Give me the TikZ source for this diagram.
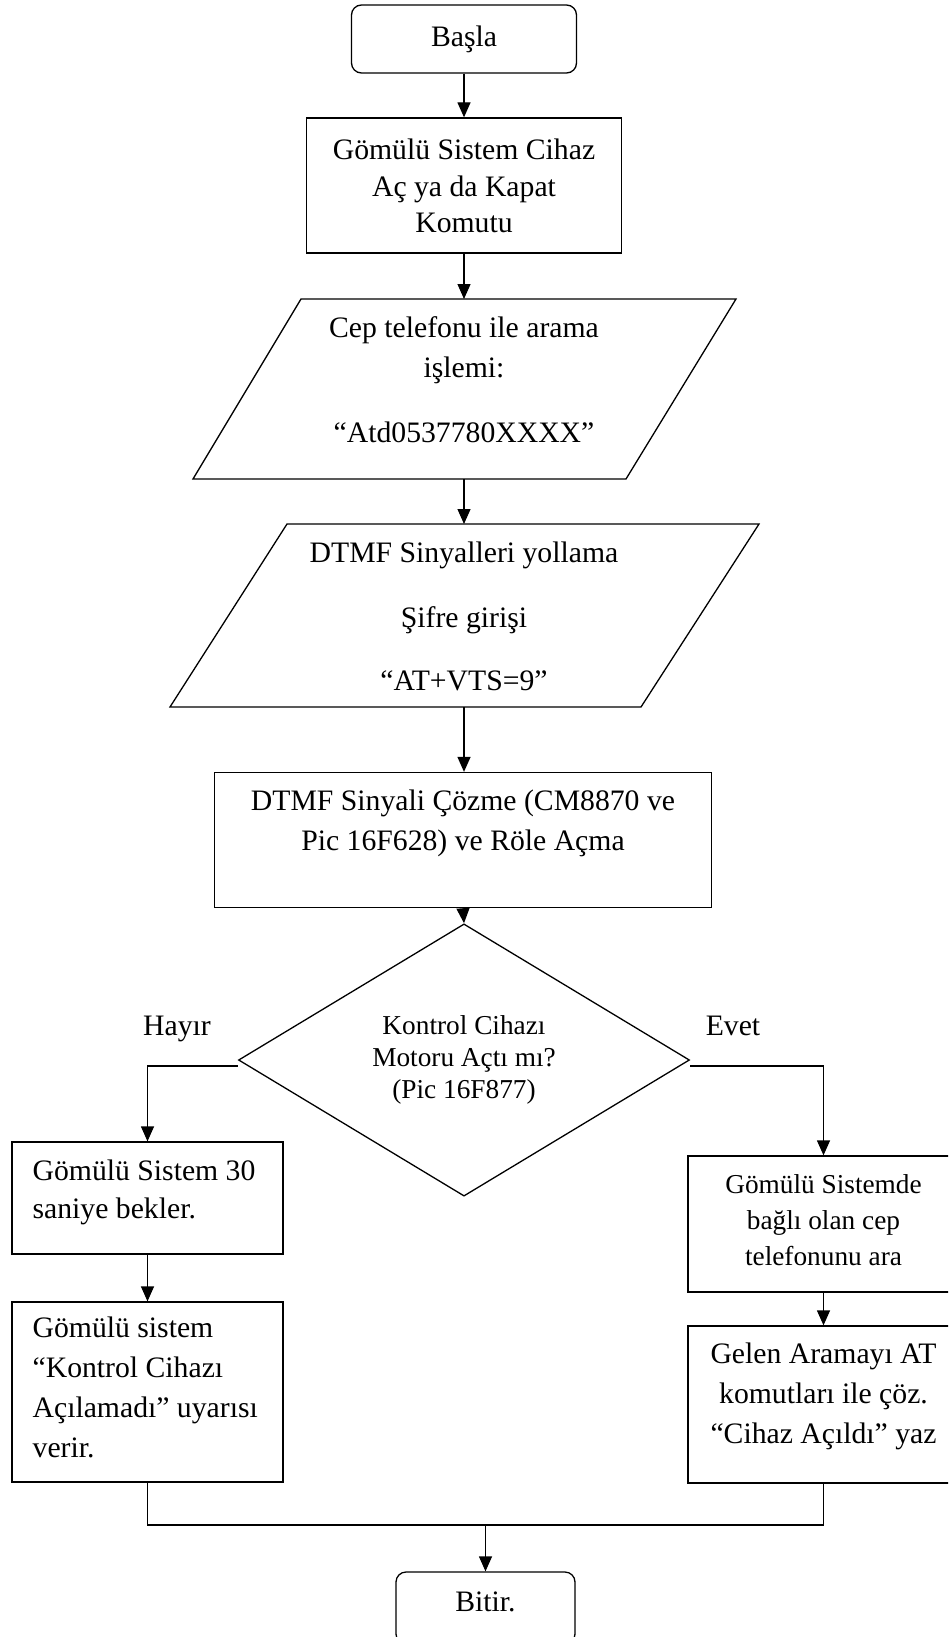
\documentclass[tikz,border=0pt]{standalone}
\usepackage{fontspec}
\setmainfont{Liberation Serif}
\usetikzlibrary{arrows.meta,shapes.geometric}
\begin{document}
\begin{tikzpicture}[x=1pt,y=-1pt,
  line width=1.3pt,
  arr/.style={-{Triangle[length=15pt,width=13pt]}},
  box/.style={draw, rectangle, inner sep=0pt},
  term/.style={draw, rectangle, rounded corners=10pt, inner sep=0pt},
  txt/.style={inner sep=0pt, anchor=base, align=center},
  ltxt/.style={inner sep=0pt, anchor=base west, align=left},
  fA/.style={font=\fontsize{29.7}{40}\selectfont},
  fB/.style={font=\fontsize{29.7}{36.5}\selectfont},
  fC/.style={font=\fontsize{27.3}{36}\selectfont},
  fD/.style={font=\fontsize{27.3}{32}\selectfont}
]
\useasboundingbox (0,0) rectangle (948,1637);
\clip (0,0) rectangle (948,1637);

% start
\node[term, minimum width=225pt, minimum height=68pt] (start) at (464,39) {};
\node[txt, fA] (starttxt) at (464,47) {Başla};

% box 1
\node[box, minimum width=315pt, minimum height=135pt] (b1) at (464,185.5) {};
\node[txt, fB] (b1t) at (464,233) {Gömülü Sistem Cihaz\\Aç ya da Kapat\\Komutu};

% parallelogram 1
\coordinate (p1n) at (464,299);
\coordinate (p1s) at (464,479);
\draw (301,299) -- (736,299) -- (626,479) -- (193,479) -- cycle;
\node[txt, fA] (p1t) at (464,442) {Cep telefonu ile arama\\işlemi:\\[25pt]“Atd0537780XXXX”};

% parallelogram 2
\coordinate (p2n) at (464,524);
\coordinate (p2s) at (464,707);
\draw (287,524) -- (759,524) -- (641,707) -- (170,707) -- cycle;
\node[txt, fA] (p2t) at (464,690) {DTMF Sinyalleri yollama\\[25pt]Şifre girişi\\[23pt]“AT+VTS=9”};

% box 3
\node[box, minimum width=497pt, minimum height=135pt] (b3) at (463,840) {};
\node[txt, fA] (b3t) at (463,850) {DTMF Sinyali Çözme (CM8870 ve\\Pic 16F628) ve Röle Açma};

% decision
\node[draw, diamond, minimum width=451pt, minimum height=224pt, inner sep=0pt, align=center, fD] (dia) at (464,1060) {Kontrol Cihazı\\Motoru Açtı mı?\\(Pic 16F877)};
\node[txt, fA] (hayir) at (177,1035) {Hayır};
\node[txt, fA] (evet) at (733,1035) {Evet};

% left branch
\node[box, minimum width=271pt, minimum height=112pt] (lb1) at (147.5,1198) {};
\node[ltxt, font=\fontsize{29.7}{38}\selectfont] (lb1t) at (32,1218) {Gömülü Sistem 30\\saniye bekler.};
\node[box, minimum width=271pt, minimum height=180pt] (lb2) at (147.5,1392) {};
\node[ltxt, fA] (lb2t) at (32,1457) {Gömülü sistem\\“Kontrol Cihazı\\Açılamadı” uyarısı\\verir.};

% right branch
\node[box, minimum width=271pt, minimum height=136pt] (rb1) at (823.5,1224) {};
\node[txt, fC] (rb1t) at (823.5,1265) {Gömülü Sistemde\\bağlı olan cep\\telefonunu ara};
\node[box, minimum width=271pt, minimum height=157pt] (rb2) at (823.5,1404.5) {};
\node[txt, fA] (rb2t) at (823.5,1443) {Gelen Aramayı AT\\komutları ile çöz.\\“Cihaz Açıldı” yaz};

% end
\node[term, minimum width=179pt, minimum height=72pt] (stop) at (485.5,1608) {};
\node[txt, fA] (stoptxt) at (485.5,1611) {Bitir.};
\coordinate (m) at (485.5,1525);

% connectors
\draw[arr] (start.south) -- (b1.north);
\draw[arr] (b1.south) -- (p1n);
\draw[arr] (p1s) -- (p2n);
\draw[arr] (p2s) -- (b3.north -| p2s);
\draw[arr] (b3.south) -- (dia.north);
\draw[arr] ([yshift=-6pt]dia.west) -| (lb1.north);
\draw[arr] ([yshift=-6pt]dia.east) -| (rb1.north);
\draw[arr] (lb1.south) -- (lb2.north);
\draw[arr] (rb1.south) -- (rb2.north);
\draw (lb2.south) -- (lb2.south |- m) -- (rb2.south |- m) -- (rb2.south);
\draw[arr] (m) -- (stop.north);
\end{tikzpicture}
\end{document}
